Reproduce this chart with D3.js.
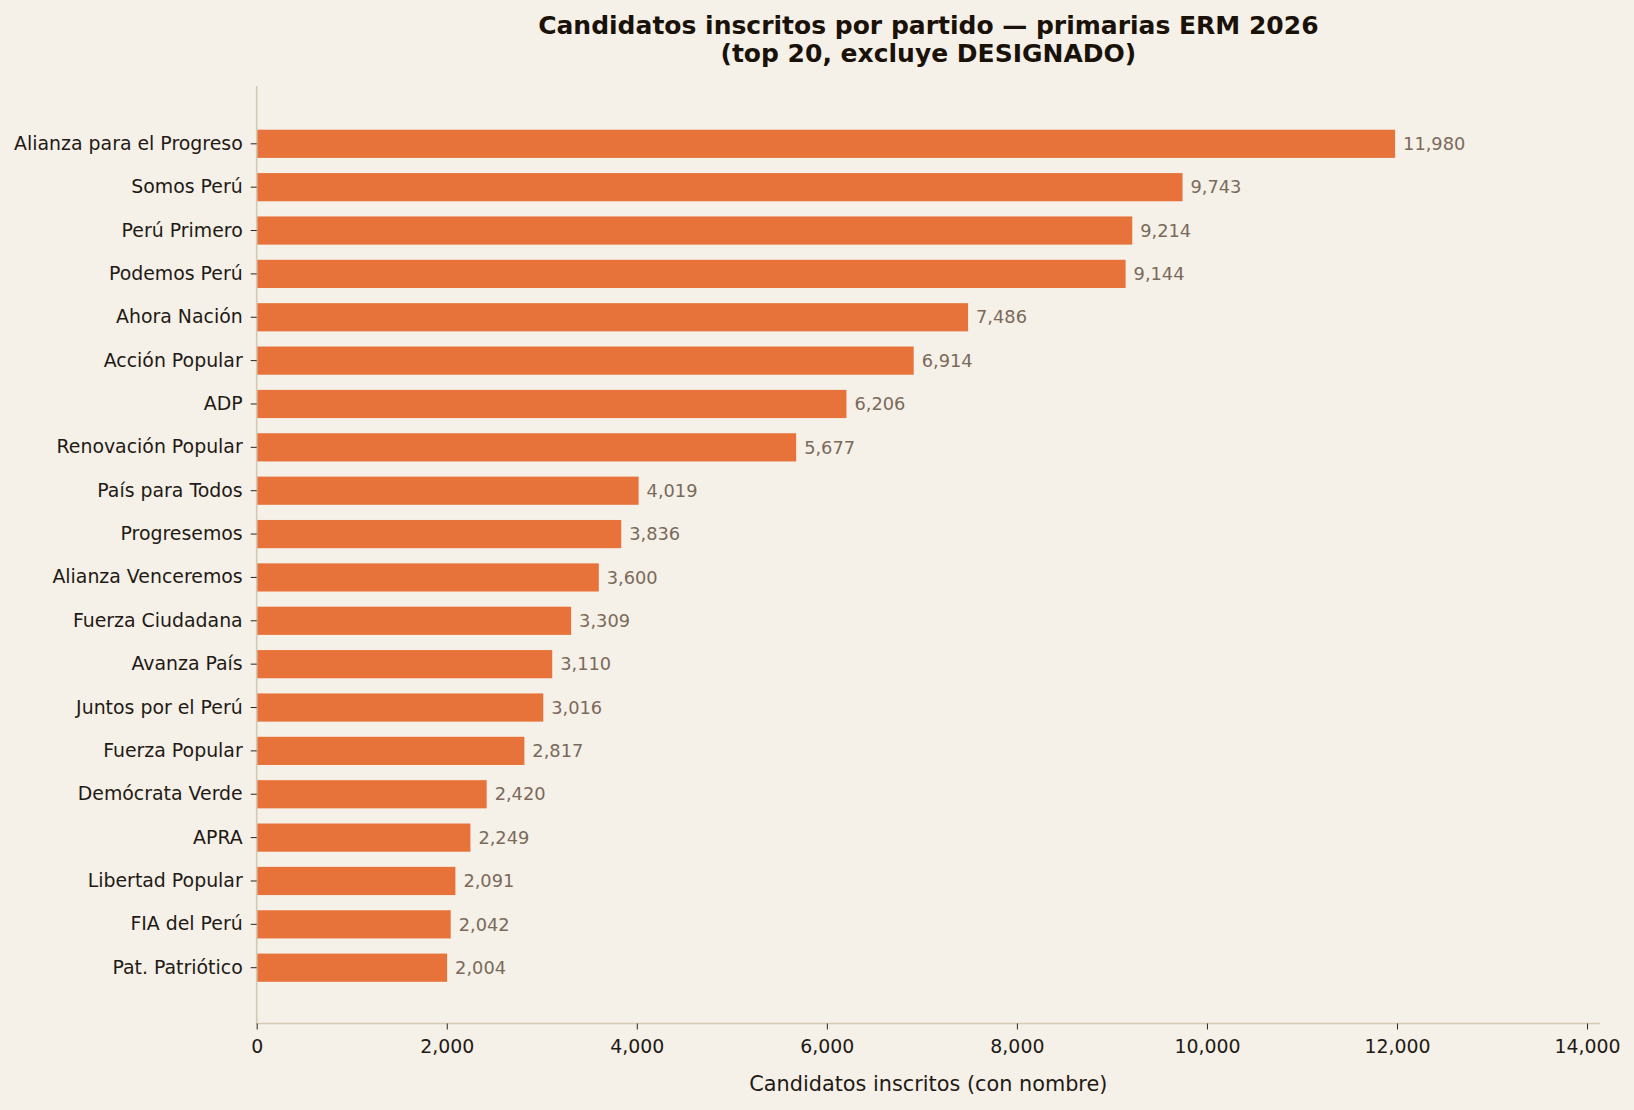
<!DOCTYPE html>
<meta charset="utf-8">
<script src="https://cdn.jsdelivr.net/npm/d3@7"></script>
<style>

body {
  margin: 0;
  background: #f5f0e8;
}

svg text {
  font-family: "DejaVu Sans", sans-serif;
}

.bar {
  fill: #e8733a;
}

.value {
  fill: #7a6a5a;
  font-size: 17.8px;
}

.tick text {
  fill: #1f1a14;
  font-size: 18.9px;
}

.tick line {
  stroke: #2b2620;
}

.domain {
  stroke: #d4c9b4;
  stroke-width: 1.6px;
}

</style>
<body>
<div id="chart"></div>
<script type="text/javascript">

// party names, top to bottom
var parties = ["Alianza para el Progreso", "Somos Perú", "Perú Primero", "Podemos Perú",
  "Ahora Nación", "Acción Popular", "ADP", "Renovación Popular", "País para Todos",
  "Progresemos", "Alianza Venceremos", "Fuerza Ciudadana", "Avanza País",
  "Juntos por el Perú", "Fuerza Popular", "Demócrata Verde", "APRA",
  "Libertad Popular", "FIA del Perú", "Pat. Patriótico"];

// candidates registered per party
var candidates = [11980, 9743, 9214, 9144, 7486, 6914, 6206, 5677, 4019, 3836,
  3600, 3309, 3110, 3016, 2817, 2420, 2249, 2091, 2042, 2004];

var xTicks = [0, 2000, 4000, 6000, 8000, 10000, 12000, 14000];

var titleLines = ["Candidatos inscritos por partido — primarias ERM 2026",
  "(top 20, excluye DESIGNADO)"];
var xLabel = "Candidatos inscritos (con nombre)";

var data = parties.map(function(p, i) { return {party: p, value: candidates[i]}; });

var format = d3.format(",");

var W = 1634, H = 1110;
var margin = {top: 87, right: 34, bottom: 85.5, left: 256.7},
    width = W - margin.left - margin.right,
    height = H - margin.top - margin.bottom;

var svg = d3.select("#chart").append("svg")
    .attr("width", W)
    .attr("height", H);

svg.append("rect")
    .attr("width", W)
    .attr("height", H)
    .attr("fill", "#f5f0e8");

var g = svg.append("g")
    .attr("transform", "translate(" + margin.left + "," + margin.top + ")");

// x extends a bit past the largest bar, like the original
var x = d3.scaleLinear()
    .domain([0, d3.max(candidates) * 1.18])
    .range([0, width]);

var y = d3.scaleBand()
    .domain(parties)
    .range([0, height])
    .paddingInner(0.35)
    .paddingOuter(0.985);

// bars
g.selectAll(".bar")
    .data(data)
  .enter().append("rect")
    .attr("class", "bar")
    .attr("x", 0)
    .attr("y", function(d) { return y(d.party); })
    .attr("height", y.bandwidth())
    .attr("width", function(d) { return x(d.value); });

// value labels
g.selectAll(".value")
    .data(data)
  .enter().append("text")
    .attr("class", "value")
    .attr("x", function(d) { return x(d.value) + 8; })
    .attr("y", function(d) { return y(d.party) + y.bandwidth() / 2; })
    .attr("dy", "0.35em")
    .text(function(d) { return format(d.value); });

// y axis
var yAxis = g.append("g")
    .attr("class", "yaxis")
    .call(d3.axisLeft(y).tickSize(6).tickPadding(8));
yAxis.select(".domain").attr("d", "M0,-1V" + height);

// x axis
var xAxis = g.append("g")
    .attr("class", "xaxis")
    .attr("transform", "translate(0," + (height - 1) + ")")
    .call(d3.axisBottom(x).tickValues(xTicks).tickFormat(format).tickSize(6).tickPadding(7));
xAxis.select(".domain").attr("d", "M0,0H" + width);
xAxis.selectAll(".tick text").attr("dy", "0.88em");

// x axis label
g.append("text")
    .attr("x", width / 2)
    .attr("y", height + 66)
    .attr("text-anchor", "middle")
    .attr("fill", "#1f1a14")
    .style("font-size", "20.8px")
    .text(xLabel);

// title
svg.selectAll(".title")
    .data(titleLines)
  .enter().append("text")
    .attr("class", "title")
    .attr("x", margin.left + width / 2)
    .attr("y", function(d, i) { return 34 + i * 28; })
    .attr("text-anchor", "middle")
    .attr("fill", "#1a1209")
    .style("font-size", "25px")
    .style("font-weight", "bold")
    .text(function(d) { return d; });

</script>
</body>
</html>
